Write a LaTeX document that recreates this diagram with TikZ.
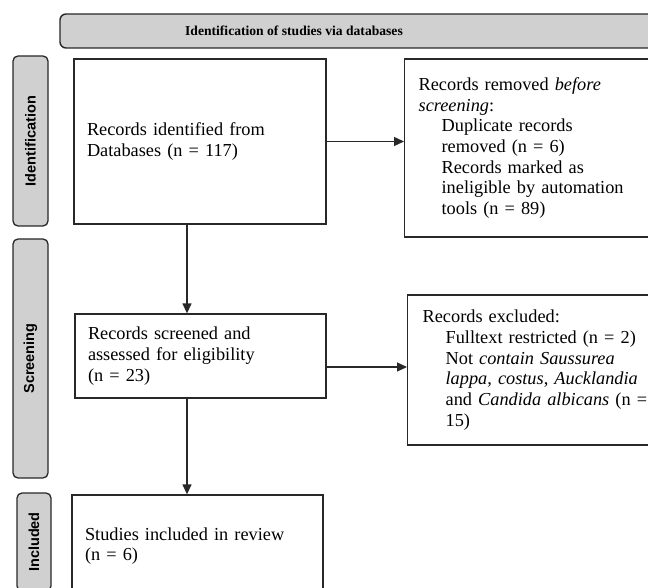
\documentclass[tikz,border=0pt]{standalone}
\usepackage{fontspec}
\setmainfont{Liberation Serif}
\setsansfont{Liberation Sans}
\usetikzlibrary{arrows.meta,calc}
\definecolor{labgray}{RGB}{208,208,208}
\definecolor{edge}{RGB}{40,40,40}
\tikzset{
  box/.style={draw=edge, line width=1.3pt, align=left,
    inner ysep=0pt, font=\fontsize{18.3}{20.7}\selectfont},
  sidelab/.style={draw=edge, line width=1.3pt, fill=labgray, rounded corners=5pt,
    rotate=90, minimum height=35pt, inner sep=0pt,
    font=\sffamily\bfseries\fontsize{14.5}{16}\selectfont},
  conn/.style={draw=edge, line width=1.3pt, -{Triangle[length=10pt,width=9pt]}},
}
\newcommand{\ind}{\hspace*{23pt}}
\begin{document}
\begin{tikzpicture}[x=1pt,y=-1pt]
\clip (0,0) rectangle (648,588);
\fill[white] (0,0) rectangle (648,588);
% header
\draw[draw=edge, line width=1.4pt, fill=labgray, rounded corners=6pt] (60,14) rectangle (700,48);
\node[font=\bfseries\fontsize{13.6}{15}\selectfont] (head) at (294,31) {Identification of studies via databases};
% side labels
\node[sidelab, minimum width=170pt] (lid) at (30.5,141) {Identification};
\node[sidelab, minimum width=239pt] (lsc) at (30.5,358.5) {Screening};
\node[sidelab, minimum width=98pt, minimum height=34pt] (lin) at (34,542) {Included};
% boxes
\node[box, anchor=center, minimum width=252pt, minimum height=165pt, inner xsep=13pt, text width=226pt] (b1) at (200,141.5)
  {Records identified from\\Databases (n = 117)};
\node[box, anchor=west, minimum width=280pt, minimum height=178pt, inner xsep=14pt, text width=252pt] (b2) at (404,148)
  {Records removed \textit{before}\\
   \textit{screening}:\\
   \ind Duplicate records\\
   \ind removed (n = 6)\\
   \ind Records marked as\\
   \ind ineligible by automation\\
   \ind tools (n = 89)};
\node[box, anchor=center, minimum width=251pt, minimum height=84pt, inner xsep=13pt, text width=225pt] (b3) at (200.5,356)
  {Records screened and\\assessed for eligibility\\(n = 23)};
\node[box, anchor=west, minimum width=280pt, minimum height=150pt, inner xsep=15pt, text width=250pt] (b4) at (407,370)
  {Records excluded:\\
   \ind Fulltext restricted (n = 2)\\
   \ind Not \textit{contain Saussurea}\\
   \ind \textit{lappa, costus}, \textit{Aucklandia}\\
   \ind and \textit{Candida albicans} (n =\\
   \ind 15)};
\node[box, anchor=center, minimum width=251pt, minimum height=102pt, inner xsep=13pt, text width=225pt] (b5) at (197.5,546)
  {Studies included in review\\(n = 6)};
% connectors
\coordinate (ax) at (187,0);
\coordinate (ay2) at (0,367);
\draw[conn] (b1.east) -- (b1.east -| b2.west);
\draw[conn] (b1.south -| ax) -- (b3.north -| ax);
\draw[conn] (b3.east |- ay2) -- (b4.west |- ay2);
\draw[conn] (b3.south -| ax) -- (b5.north -| ax);
\end{tikzpicture}
\end{document}
